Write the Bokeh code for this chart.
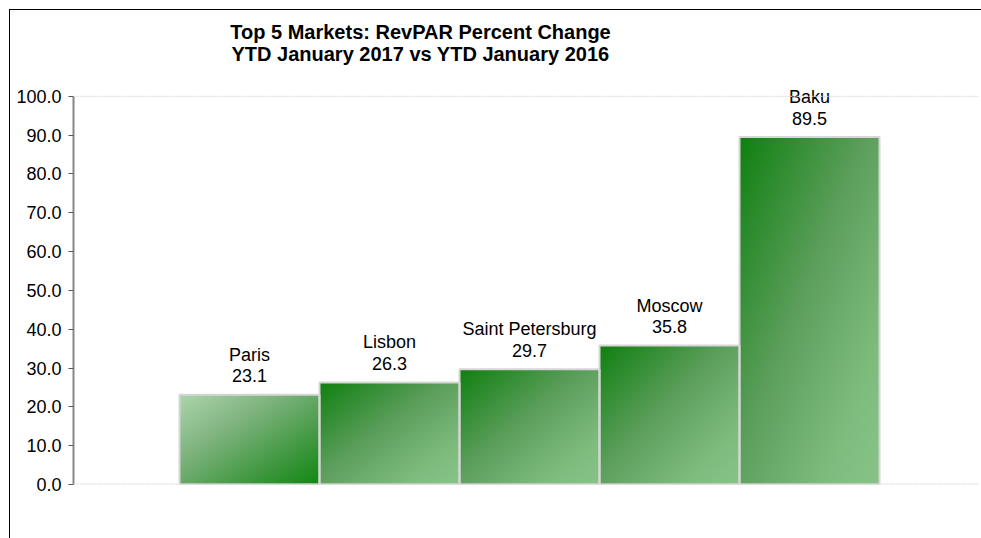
import numpy as np
from bokeh.plotting import figure
from bokeh.models import Range1d, Span, Label, ColumnDataSource, FixedTicker, NumeralTickFormatter
from bokeh.embed import file_html
from bokeh.resources import INLINE
from bokeh.core.properties import value

# ---- data ----
markets = ["Paris", "Lisbon", "Saint Petersburg", "Moscow", "Baku"]
revpar_change = [23.1, 26.3, 29.7, 35.8, 89.5]
y_ticks = [0, 10, 20, 30, 40, 50, 60, 70, 80, 90, 100]
title_lines = ["Top 5 Markets: RevPAR Percent Change",
               "YTD January 2017 vs YTD January 2016"]

FONT = value("Liberation Sans")

idx = list(range(len(markets)))
value_labels = [f"{v:.1f}" for v in revpar_change]

p = figure(width=971, height=528, output_backend="svg", toolbar_location=None,
           x_range=Range1d(-1.257, 5.207), y_range=Range1d(0, 121.6),
           min_border_left=63, min_border_right=3, min_border_top=2, min_border_bottom=54)
p.margin = (10, 0, 0, 10)
p.styles = {"outline": "1px solid #000000", "outline-offset": "0px"}
p.outline_line_color = None
p.xgrid.grid_line_color = None
p.ygrid.grid_line_color = None
p.xaxis.visible = False

yax = p.yaxis[0]
yax.ticker = FixedTicker(ticks=y_ticks)
yax.formatter = NumeralTickFormatter(format="0.0")
yax.bounds = (0, 100)
yax.axis_line_color = "#868686"
yax.axis_line_width = 2
yax.major_tick_line_color = "#595959"
yax.major_tick_in = 0
yax.major_tick_out = 5
yax.minor_tick_line_color = None
yax.major_label_standoff = 7
yax.major_label_text_font = "Liberation Sans"
yax.major_label_text_font_size = "18px"
yax.major_label_text_color = "#000000"

# gradient fills (multi-stop, diagonal in the bar's own box)
STOPS_T = [0.0, 0.45, 0.8, 1.0]
STOPS_C = [(16, 128, 16), (92, 158, 92), (126, 188, 126), (135, 195, 135)]
PARIS_C = [(174, 213, 174), (128, 180, 128), (60, 150, 60), (18, 136, 18)]
PARIS_T = [0.0, 0.35, 0.75, 1.0]

def gradient(ts, cs, nx=140, ny=360):
    u = np.linspace(0, 1, nx)[None, :]
    v = np.linspace(1, 0, ny)[:, None]   # row 0 = bottom of bar
    t = (u + v) / 2.0
    img = np.empty((ny, nx), dtype=np.uint32)
    view = img.view(dtype=np.uint8).reshape((ny, nx, 4))
    for k in range(3):
        ch = np.interp(t, ts, [c[k] for c in cs])
        view[:, :, k] = np.round(ch).astype(np.uint8)
    view[:, :, 3] = 255
    return img

images = [gradient(PARIS_T, PARIS_C) if i == 0 else gradient(STOPS_T, STOPS_C) for i in idx]

src = ColumnDataSource(dict(x=idx, left=[i - 0.5 for i in idx], top=revpar_change,
                            name=markets, val=value_labels, image=images))

p.image_rgba(image="image", x="left", y=0, dw=1, dh="top", source=src)
p.vbar(x="x", top="top", width=1, bottom=0, source=src,
       fill_color=None, line_color="#d6d6d6", line_width=2)

p.add_layout(Span(location=100, dimension="width", line_color="#d9d9d9",
                  line_dash="2 1", line_width=1))
p.add_layout(Span(location=0, dimension="width", line_color="#d9d9d9",
                  line_dash="2 1", line_width=2))

p.text(x="x", y="top", text="name", source=src, text_align="center",
       text_baseline="middle", y_offset=-40, text_font=FONT,
       text_font_size="18px", text_color="#000000")
p.text(x="x", y="top", text="val", source=src, text_align="center",
       text_baseline="middle", y_offset=-19, text_font=FONT,
       text_font_size="18px", text_color="#000000")

for k, line in enumerate(title_lines):
    p.add_layout(Label(x=347, y=453 - 22 * k, x_units="screen", y_units="screen",
                       text=line, text_align="center", text_baseline="middle",
                       text_font="Liberation Sans", text_font_style="bold",
                       text_font_size="20px", text_color="#000000"))

open("out.html", "w").write(file_html(p, INLINE))
